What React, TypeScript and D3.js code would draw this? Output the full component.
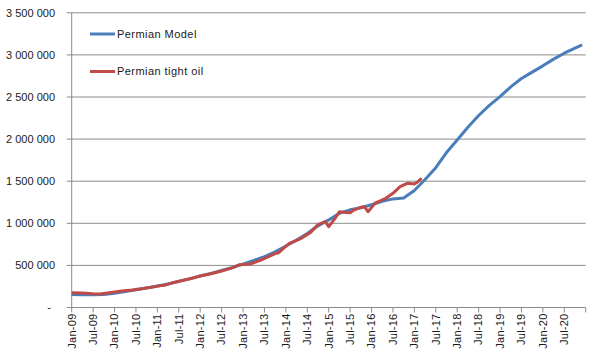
import React from "react";
import * as d3 from "d3";

const modelMonths = [0,3,6,9,12,15,18,21,24,27,30,33,36,39,42,45,48,51,54,57,60,63,66,69,72,75,78,81,84,87,90,93,96,99,102,105,108,111,114,117,120,123,126,129,132,135,138,141,143];
const modelValues = [155000,152000,150000,155000,170000,190000,210000,232000,255000,280000,310000,340000,375000,405000,440000,475000,515000,560000,605000,660000,730000,800000,880000,970000,1040000,1120000,1160000,1185000,1220000,1260000,1290000,1300000,1390000,1520000,1660000,1840000,1990000,2140000,2280000,2400000,2505000,2620000,2720000,2795000,2870000,2950000,3020000,3080000,3120000];

const oilMonths = [0,3,6,8,11,14,17,20,23,25,26,28,31,34,36,39,42,45,47,50,53,55,57,58,59,61,64,67,69,71,72,74,75,77,78,79,81,82,83,85,88,90,92,94,96,97,98];
const oilValues = [176000,172000,162000,160000,178000,195000,208000,225000,245000,262000,265000,290000,320000,350000,374000,400000,433000,470000,508000,517000,564000,600000,640000,651000,690000,762000,815000,895000,985000,1019000,960000,1071000,1138000,1128000,1126000,1158000,1190000,1197000,1138000,1240000,1297000,1356000,1435000,1475000,1467000,1494000,1535000];

const yTicks = [0,500000,1000000,1500000,2000000,2500000,3000000,3500000];
const xTickLabels = ["Jan-09","Jul-09","Jan-10","Jul-10","Jan-11","Jul-11","Jan-12","Jul-12","Jan-13","Jul-13","Jan-14","Jul-14","Jan-15","Jul-15","Jan-16","Jul-16","Jan-17","Jul-17","Jan-18","Jul-18","Jan-19","Jul-19","Jan-20","Jul-20"];
const seriesNames = ["Permian Model", "Permian tight oil"];

const W = 600, H = 356;
const left = 71.7, right = 585.7, top = 12.8, bottom = 307.5;
const FONT = "'Liberation Sans', Arial, sans-serif";

export default function App() {
  const x = d3.scaleLinear().domain([0, 144]).range([left, right]);
  const y = d3.scaleLinear().domain([0, 3500000]).range([bottom, top]);
  const line = d3.line<[number, number]>().x(d => x(d[0])).y(d => y(d[1])).curve(d3.curveLinear);
  const modelData: [number, number][] = modelMonths.map((m, i) => [m, modelValues[i]]);
  const oilData: [number, number][] = oilMonths.map((m, i) => [m, oilValues[i]]);
  const fmt = (v: number) => v === 0 ? "-" : d3.format(",")(v).replace(/,/g, " ");
  const xTicks = d3.range(0, 145, 6);
  const grid = "#8c8c8c";
  const txt = "#1a1a1a";
  return (
    <svg width={W} height={H} style={{ position: "absolute", left: 0, top: 0, background: "#fff" }} fontFamily={FONT}>
      {yTicks.map(t => (
        <g key={t}>
          <line x1={left - 5} x2={right} y1={y(t)} y2={y(t)} stroke={grid} strokeWidth={1} />
          <text x={t === 0 ? 51 : 55} y={y(t)} dy="0.35em" textAnchor="end" fontSize={11} fill={txt}>{fmt(t)}</text>
        </g>
      ))}
      <line x1={left} x2={left} y1={top} y2={bottom} stroke={grid} strokeWidth={1} />
      {xTicks.map((m, i) => (
        <g key={m}>
          <line x1={x(m)} x2={x(m)} y1={bottom} y2={bottom + 5} stroke={grid} strokeWidth={1} />
          {i < xTickLabels.length && (
            <text transform={`translate(${x(m)},${bottom + 6}) rotate(-90)`} dy="0.35em" textAnchor="end" fontSize={11} letterSpacing={0.25} fill={txt}>{xTickLabels[i]}</text>
          )}
        </g>
      ))}
      <path d={line(modelData) || ""} fill="none" stroke="#4a7ebb" strokeWidth={3} strokeLinejoin="round" />
      <path d={line(oilData) || ""} fill="none" stroke="#be4b48" strokeWidth={3} strokeLinejoin="round" />
      <line x1={90} x2={115} y1={34} y2={34} stroke="#4a7ebb" strokeWidth={3} />
      <text x={117} y={34} dy="0.35em" fontSize={11} letterSpacing={0.45} fill={txt}>{seriesNames[0]}</text>
      <line x1={90} x2={115} y1={71.5} y2={71.5} stroke="#be4b48" strokeWidth={3} />
      <text x={117} y={71.5} dy="0.35em" fontSize={11} letterSpacing={0.45} fill={txt}>{seriesNames[1]}</text>
    </svg>
  );
}
